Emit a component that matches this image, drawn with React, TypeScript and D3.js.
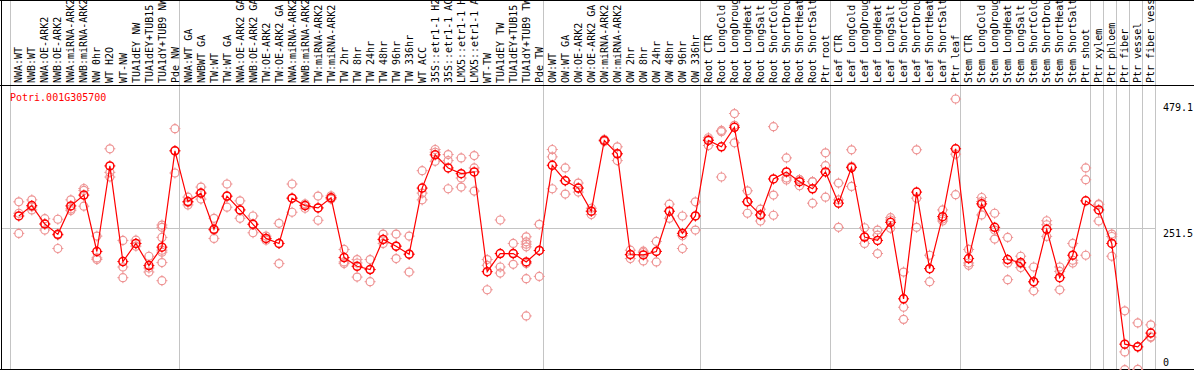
import React from 'react';
import * as d3 from 'd3';

const geneId = 'Potri.001G305700';

const labelsNW = ['NWA:WT', 'NWB:WT', 'NWA:OE-ARK2', 'NWB:OE-ARK2', 'NWA:miRNA-ARK2', 'NWB:miRNA-ARK2', 'NW 0hr', 'WT H2O', 'WT-NW', 'TUA1dEY NW', 'TUA1dEY+TUB15 NW', 'TUA1dY+TUB9 NW', 'Pde NW'];
const labelsTW = ['NWA:WT GA', 'NWBWT GA', 'TW:WT', 'TW:WT GA', 'NWA:OE-ARK2 GA', 'NWB:OE-ARK2 GA', 'TW:OE-ARK2', 'TW:OE-ARK2 GA', 'NWA:miRNA-ARK2 GA', 'NWB:miRNA-ARK2 GA', 'TW:miRNA-ARK2', 'TW:miRNA-ARK2 GA', 'TW 2hr', 'TW 8hr', 'TW 24hr', 'TW 48hr', 'TW 96hr', 'TW 336hr', 'WT ACC', '35S::etr1-1 H2O', '35S::etr1-1 ACC', 'LMX5::etr1-1 H2O', 'LMX5::etr1-1 ACC', 'WT-TW', 'TUA1dEY TW', 'TUA1dEY+TUB15 TW', 'TUA1dY+TUB9 TW', 'Pde TW'];
const labelsOW = ['OW:WT', 'OW:WT GA', 'OW:OE-ARK2', 'OW:OE-ARK2 GA', 'OW:miRNA-ARK2', 'OW:miRNA-ARK2 GA', 'OW 2hr', 'OW 8hr', 'OW 24hr', 'OW 48hr', 'OW 96hr', 'OW 336hr'];
const labelsRoot = ['Root CTR', 'Root LongCold', 'Root LongDrought', 'Root LongHeat', 'Root LongSalt', 'Root ShortCold', 'Root ShortDrought', 'Root ShortHeat', 'Root ShortSalt', 'Ptr root'];
const labelsLeaf = ['Leaf CTR', 'Leaf LongCold', 'Leaf LongDrought', 'Leaf LongHeat', 'Leaf LongSalt', 'Leaf ShortCold', 'Leaf ShortDrought', 'Leaf ShortHeat', 'Leaf ShortSalt', 'Ptr leaf'];
const labelsStem = ['Stem CTR', 'Stem LongCold', 'Stem LongDrought', 'Stem LongHeat', 'Stem LongSalt', 'Stem ShortCold', 'Stem ShortDrought', 'Stem ShortHeat', 'Stem ShortSalt', 'Ptr shoot'];
const labelsTissue = ['Ptr xylem', 'Ptr phloem', 'Ptr fiber', 'Ptr vessel', 'Ptr fiber vessel'];

const groups = [labelsNW, labelsTW, labelsOW, labelsRoot, labelsLeaf, labelsStem, ...labelsTissue.map(l => [l])];
const labels = groups.flat();

const means = [
  272.3, 290.7, 258.1, 239.8, 290.1, 309.2, 209.5, 360.8, 191.7, 223.7, 184.6, 217.2, 387.5,
  297.8, 312.7, 248.7, 307.4, 283.0, 257.6, 232.6, 223.7, 303.8, 290.7, 286.6, 304.4, 198.8, 183.3,
  177.5, 230.9, 218.9, 204.7, 321.6, 380.4, 357.2, 347.1, 350.1, 173.9, 205.9, 205.9, 191.0, 211.3,
  361.9, 334.6, 321.6, 280.7, 405.8, 382.2, 204.2, 203.5, 209.5, 280.7, 241.5, 272.3,
  405.8, 394.6, 429.0, 297.3, 274.1, 337.7, 350.1, 332.9, 320.4, 350.1,
  294.9, 357.8, 235.0, 229.1, 261.1, 125.8, 314.5, 179.2, 271.1, 391.1,
  197.0, 293.7, 252.2, 195.3, 189.9, 156.1, 248.7, 163.2, 202.9, 299.0,
  283.0, 223.7, 45.7, 40.9, 65.3,
];

const replicates = [
  [297.3, 277.1, 241.5], [300.8, 288.4, 283.0], [267.5, 258.1, 247.4], [266.5, 238.5, 214.8],
  [300.8, 284.8, 281.8], [320.9, 317.4, 289.6], [236.7, 198.1, 195.3], [391.1, 349.4, 341.2],
  [229.1, 182.1, 163.2], [229.6, 223.7, 218.9], [201.1, 180.3, 173.2],
  [256.3, 252.2, 234.4, 211.8, 208.3, 189.9, 157.9], [426.7, 387.5, 348.3],
  [305.6, 296.0, 291.9], [323.4, 312.7, 302.1], [268.2, 247.4, 232.6], [328.8, 306.7, 287.8],
  [299.0, 283.0, 268.2], [272.3, 257.6, 242.6], [236.7, 232.6, 229.6], [259.3, 223.7, 188.1],
  [328.8, 303.8, 278.9], [293.7, 290.7, 286.0], [307.4, 286.6, 264.7], [307.9, 304.4, 302.1],
  [213.1, 191.0, 188.1], [195.3, 189.2, 164.3], [195.3, 177.5, 156.1], [240.3, 230.9, 223.7],
  [240.3, 218.9, 197.0], [236.7, 204.7, 173.2], [352.4, 312.7, 300.8], [389.8, 385.0, 369.0],
  [380.9, 370.2, 320.4], [375.0, 339.4, 323.4], [379.1, 357.2, 316.3], [195.3, 185.1, 141.9],
  [265.2, 182.1, 171.4], [223.7, 205.9, 186.9], [235.5, 226.6, 222.5, 217.7, 188.1, 161.4, 95.6],
  [257.6, 211.3, 165.5],
  [389.8, 376.8, 320.4], [357.2, 334.6, 311.0], [330.5, 321.6, 314.5], [286.0, 280.7, 274.7],
  [407.6, 405.8, 404.1], [394.6, 382.2, 370.2], [211.8, 203.5, 197.0], [210.0, 207.7, 192.8],
  [227.3, 210.0, 191.0], [293.2, 280.7, 268.2], [272.3, 237.3, 214.8], [297.3, 272.3, 247.4],
  [410.6, 407.6, 396.9], [423.6, 421.3, 341.2], [453.4, 432.5, 401.7], [316.8, 297.3, 277.1],
  [284.3, 274.1, 263.4], [430.2, 309.2, 273.6], [375.0, 339.4, 335.9], [336.4, 336.4, 325.7],
  [332.9, 332.9, 294.9], [383.9, 361.3, 305.6],
  [330.5, 300.8, 252.2], [389.3, 360.1, 324.5], [251.5, 235.0, 223.7], [247.4, 238.5, 205.9],
  [269.3, 265.2, 250.4], [173.2, 110.9, 89.5], [389.3, 303.8, 252.2], [202.9, 179.2, 156.1],
  [283.0, 267.0, 263.4], [479.1, 381.6, 309.9],
  [213.1, 189.2, 185.1], [305.0, 297.8, 274.1], [277.1, 247.4, 231.4], [234.4, 189.2, 159.7],
  [201.1, 188.1, 181.0], [182.1, 155.4, 139.9], [263.9, 256.8, 236.2], [182.1, 174.3, 141.7],
  [223.7, 194.0, 189.2], [357.2, 336.4, 202.9],
  [293.2, 292.5, 263.4], [240.3, 236.0, 201.1], [104.6, 32.0, 0.5], [83.3, 40.9, 1.2], [79.8, 58.7, 57.5],
];

const yTicks = [0, 251.5, 479.1];

const W = 1194;
const H = 370;
const FONT = '"DejaVu Sans Mono", monospace';
const RED = '#ff0000';
const PINK = '#ee9494';
const GRID = '#c4c4c4';

const Ring = ({ cx, cy, color, w }: { cx: number; cy: number; color: string; w: number }) => {
  const r = 4;
  return (
    <g stroke={color} fill="none">
      <circle cx={cx} cy={cy} r={r} strokeWidth={w} />
      <line x1={cx} x2={cx} y1={cy - r - 1.5} y2={cy - r + 0.5} strokeWidth={1} />
      <line x1={cx} x2={cx} y1={cy + r - 0.5} y2={cy + r + 1.5} strokeWidth={1} />
      <line y1={cy} y2={cy} x1={cx - r - 1.5} x2={cx - r + 0.5} strokeWidth={1} />
      <line y1={cy} y2={cy} x1={cx + r - 0.5} x2={cx + r + 1.5} strokeWidth={1} />
    </g>
  );
};

export default function App() {
  const idx = labels.map((_, i) => String(i));
  const x = d3.scaleBand<string>().domain(idx).range([10, 1155]);
  const px = (i: number) => (x(String(i)) as number) + 8.8;
  const y = d3.scaleLinear().domain([0, 479.1]).range([370, 99]);

  const line = d3.line<number>().x((_, i) => px(i)).y(d => y(d));

  // separators at group starts
  const starts: number[] = [];
  let acc = 0;
  groups.forEach(g => { starts.push(acc); acc += g.length; });
  starts.push(acc);
  const sepX = (k: number) => Math.round(10 + k * x.step()) + 0.5;

  return (
    <svg width={W} height={H} style={{ position: 'absolute', left: 0, top: 0, background: '#fff' }} fontFamily={FONT}>
      <rect x={0} y={0} width={W} height={H} fill="#fff" />
      {starts.map(k => (
        <line key={'s' + k} x1={sepX(k)} x2={sepX(k)} y1={0} y2={H} stroke={GRID} />
      ))}
      <line x1={1} x2={sepX(labels.length)} y1={Math.round(y(251.5)) + 0.5} y2={Math.round(y(251.5)) + 0.5} stroke={GRID} />
      <line x1={0} x2={W} y1={85.5} y2={85.5} stroke="#000" />
      <line x1={0} x2={W} y1={0.5} y2={0.5} stroke="#000" />
      <line x1={1.5} x2={1.5} y1={0} y2={H} stroke="#000" />
      <line x1={0} x2={W} y1={369.5} y2={369.5} stroke="#000" />

      {labels.map((l, i) => (
        <text key={'l' + i} transform={`translate(${px(i)},83) rotate(-90)`} dy="0.36em" fontSize={10} fill="#000">{l}</text>
      ))}

      <text x={10} y={100.5} fontSize={10} fill={RED}>{geneId}</text>

      {yTicks.map(t => (
        <text key={'t' + t} x={1163} y={t === 0 ? 365.5 : t === 479.1 ? 111 : Math.round(y(t)) + 9} fontSize={10} fill="#000">{t === 0 ? '0' : t.toFixed(1)}</text>
      ))}

      {replicates.map((reps, i) => reps.map((v, j) => (
        <Ring key={`r${i}-${j}`} cx={px(i)} cy={y(v)} color={PINK} w={1.2} />
      )))}
      <path d={line(means) || ''} fill="none" stroke={RED} strokeWidth={1.2} />
      {means.map((v, i) => (
        <Ring key={'m' + i} cx={px(i)} cy={y(v)} color={RED} w={1.5} />
      ))}
    </svg>
  );
}
